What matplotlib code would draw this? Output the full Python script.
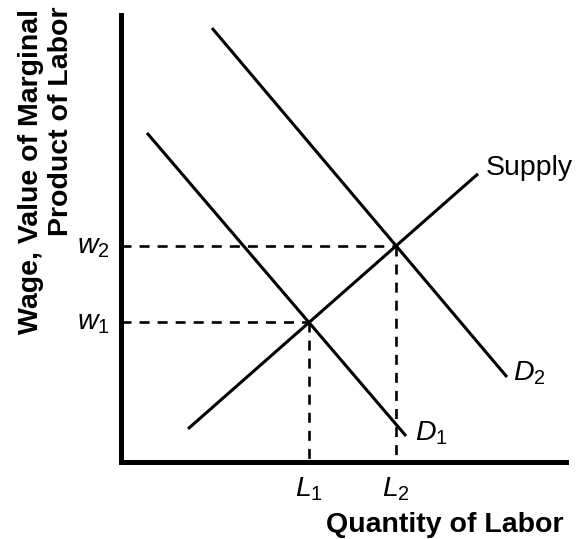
import matplotlib
matplotlib.use("Agg")
import matplotlib.pyplot as plt
import numpy as np

plt.rcParams['font.family'] = ['Liberation Sans', 'DejaVu Sans']
plt.rcParams['mathtext.fontset'] = 'custom'
plt.rcParams['mathtext.rm'] = 'Liberation Sans'
plt.rcParams['mathtext.it'] = 'Liberation Sans:italic'
plt.rcParams['lines.scale_dashes'] = False

# ---- data (axis units 0..10) ----
supply_x = [1.517, 8.034]
supply_y = [0.74, 6.44]
d1_x = [0.596, 6.416]
d1_y = [7.352, 0.581]
d2_x = [2.056, 8.685]
d2_y = [9.698, 1.899]
curve_labels = ["Supply", "$D_1$", "$D_2$"]
wage_labels = ["$w_1$", "$w_2$"]
qty_labels = ["$L_1$", "$L_2$"]
xlabel = "Quantity of Labor"
ylabel_lines = ["Wage, Value of Marginal", "Product of Labor"]


def intersect(ax_, ay_, bx_, by_):
    ma = (ay_[1] - ay_[0]) / (ax_[1] - ax_[0])
    mb = (by_[1] - by_[0]) / (bx_[1] - bx_[0])
    ca = ay_[0] - ma * ax_[0]
    cb = by_[0] - mb * bx_[0]
    x = (cb - ca) / (ma - mb)
    return x, ma * x + ca


W, H = 576, 539
fig = plt.figure(figsize=(W / 100, H / 100), dpi=100)
left, right, top, bottom = 120.5, 565.5, 14.5, 462
ax = fig.add_axes([left / W, 1 - bottom / H, (right - left) / W, (bottom - top) / H])
ax.set_xlim(0, 10)
ax.set_ylim(0, 10)
for s in ['top', 'right']:
    ax.spines[s].set_visible(False)
for s in ['left', 'bottom']:
    ax.spines[s].set_linewidth(3.6)
    ax.spines[s].set_capstyle('projecting')
ax.set_xticks([])
ax.set_yticks([])

lw = 2.2
for xs, ys in [(supply_x, supply_y), (d1_x, d1_y), (d2_x, d2_y)]:
    ax.plot(xs, ys, color='black', lw=lw, solid_capstyle='butt', clip_on=False)

eq = [intersect(supply_x, supply_y, d1_x, d1_y), intersect(supply_x, supply_y, d2_x, d2_y)]
dash = (7.2, 5.8)
fs = 20.5
for (lx, wy), wl, ql in zip(eq, wage_labels, qty_labels):
    ax.plot([0, lx], [wy, wy], color='black', lw=1.9, linestyle=(0, dash), dash_capstyle='butt')
    ax.plot([lx, lx], [wy, 0], color='black', lw=1.9, linestyle=(0, dash), dash_capstyle='butt')
    ax.text(-0.24, wy - 0.16, wl, ha='right', va='baseline', fontsize=fs, clip_on=False)
    ax.text(lx, -0.78, ql, ha='center', va='baseline', fontsize=fs, clip_on=False)

ax.text(8.21, 6.41, curve_labels[0], ha='left', va='baseline', fontsize=fs, clip_on=False)
ax.text(6.62, 0.49, curve_labels[1], ha='left', va='baseline', fontsize=fs, clip_on=False)
ax.text(8.82, 1.83, curve_labels[2], ha='left', va='baseline', fontsize=fs, clip_on=False)

fig.text(563 / W, 1 - 532 / H, xlabel, ha='right', va='baseline', fontsize=fs, fontweight='bold')
fig.text(38 / W, 1 - 9 / H, ylabel_lines[0], rotation=90, rotation_mode='anchor',
         ha='right', va='baseline', fontsize=fs, fontweight='bold')
fig.text(68 / W, 1 - 7 / H, ylabel_lines[1], rotation=90, rotation_mode='anchor',
         ha='right', va='baseline', fontsize=fs, fontweight='bold')

fig.savefig("out.png", dpi=100)
